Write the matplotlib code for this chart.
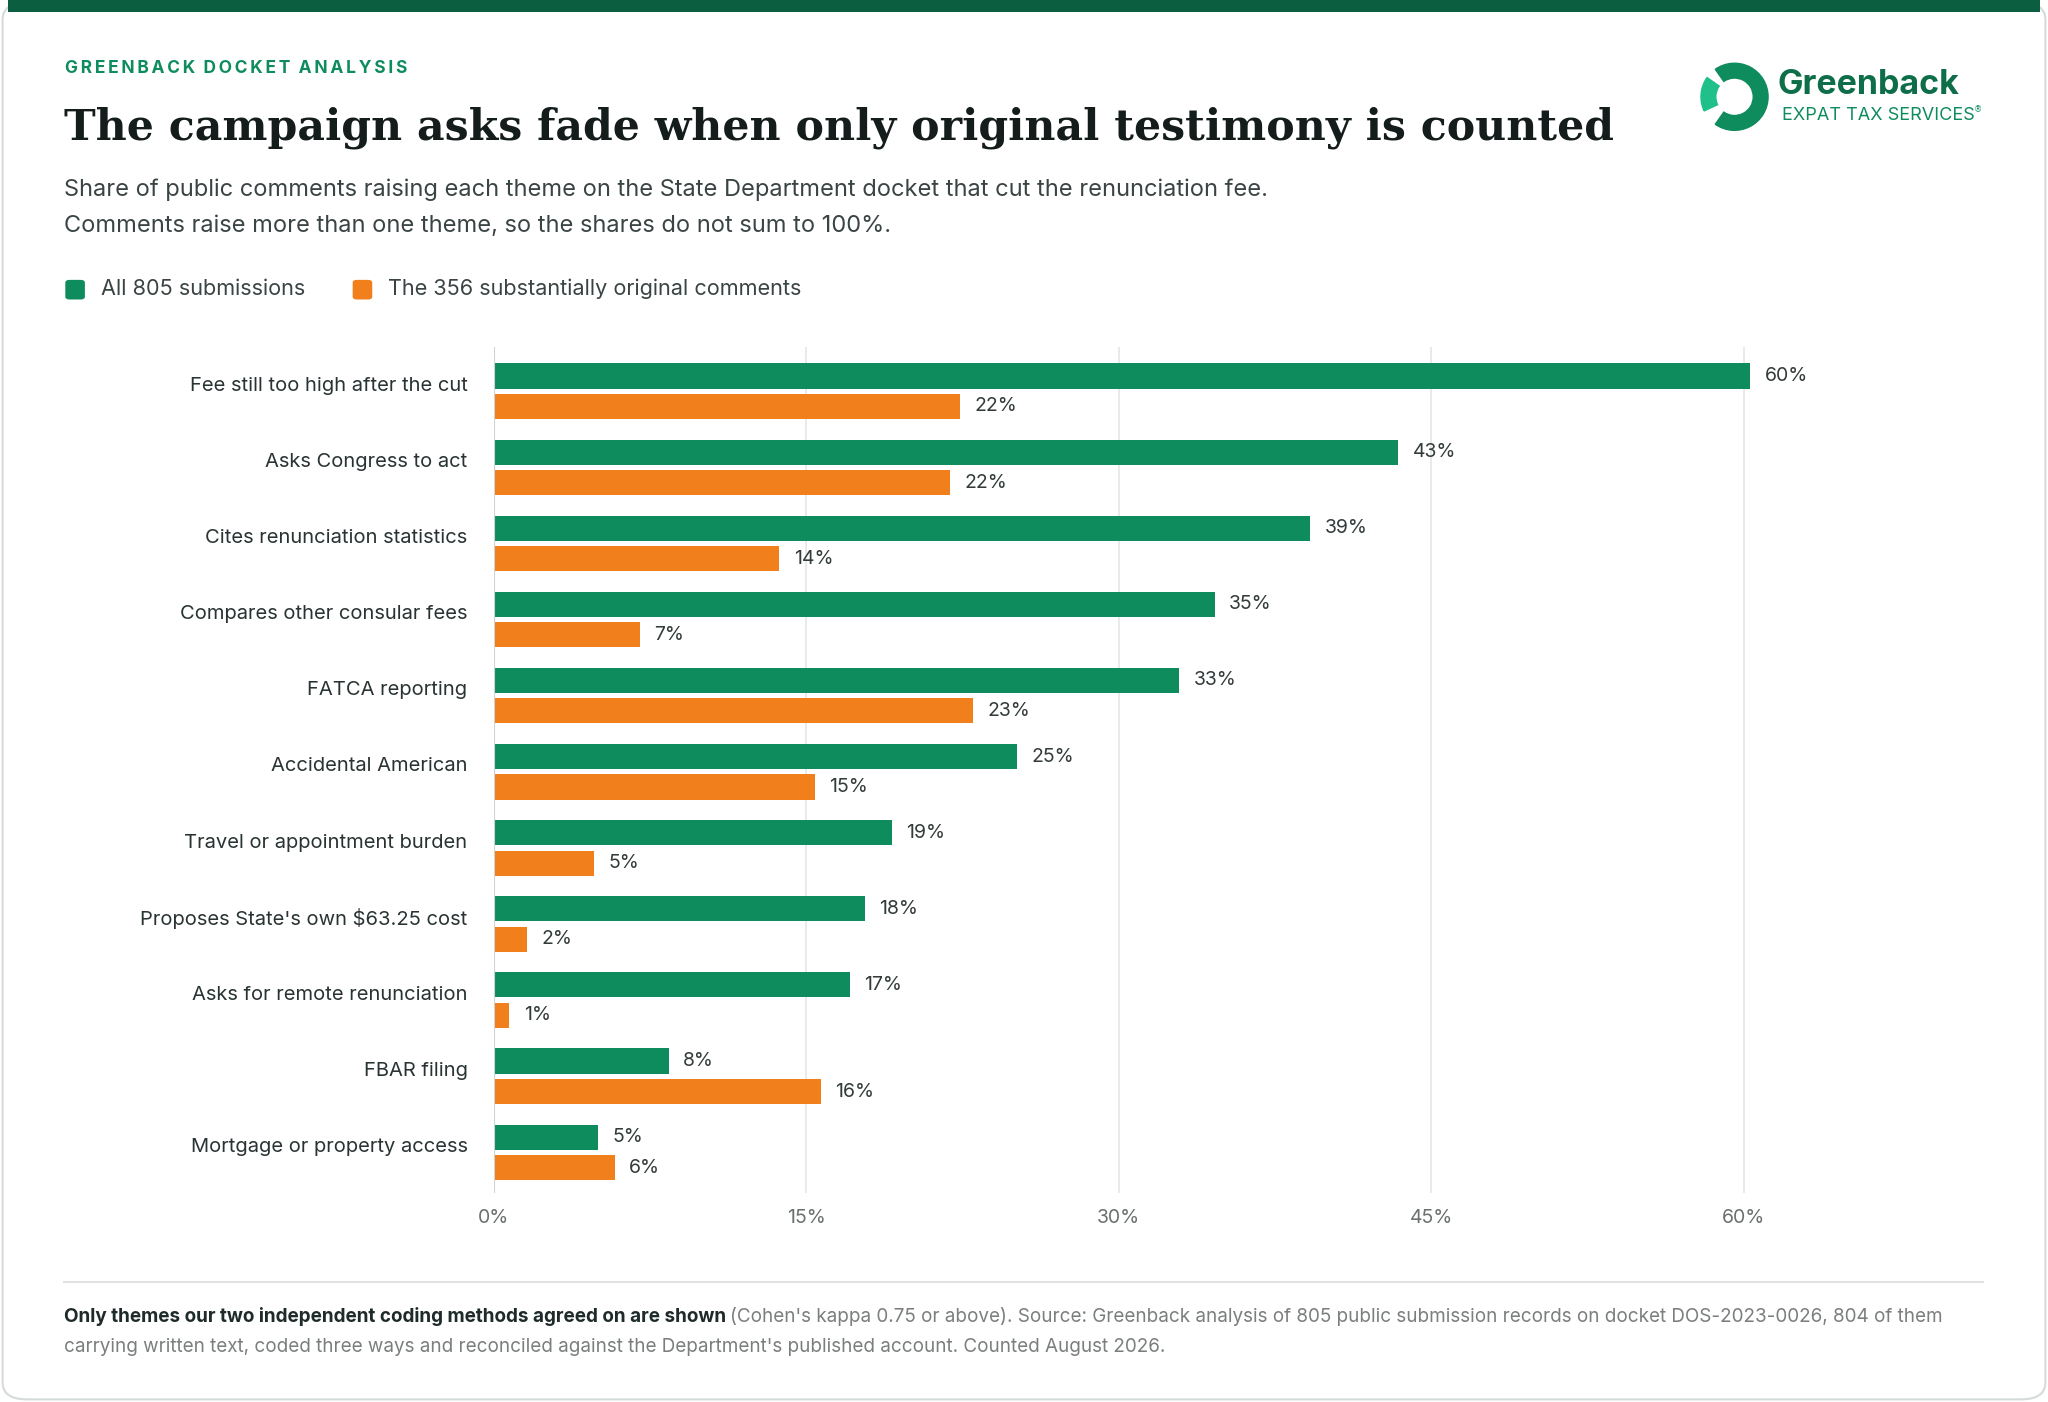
import matplotlib
matplotlib.use("Agg")
import matplotlib.pyplot as plt
from matplotlib.patches import FancyBboxPatch, Rectangle, Wedge
import numpy as np

categories = ["Fee still too high after the cut", "Asks Congress to act", "Cites renunciation statistics",
              "Compares other consular fees", "FATCA reporting", "Accidental American",
              "Travel or appointment burden", "Proposes State's own $63.25 cost",
              "Asks for remote renunciation", "FBAR filing", "Mortgage or property access"]
all_vals = [60.3, 43.4, 39.2, 34.6, 32.9, 25.1, 19.1, 17.8, 17.1, 8.4, 5.0]
orig_vals = [22.4, 21.9, 13.7, 7.0, 23.0, 15.4, 4.8, 1.6, 0.75, 15.7, 5.8]
all_labels = ["60%", "43%", "39%", "35%", "33%", "25%", "19%", "18%", "17%", "8%", "5%"]
orig_labels = ["22%", "22%", "14%", "7%", "23%", "15%", "5%", "2%", "1%", "16%", "6%"]
xticks = [0, 15, 30, 45, 60]
xticklabels = ["0%", "15%", "30%", "45%", "60%"]

GREEN = "#0f8c5e"
ORANGE = "#f07f1c"
GREY = "#6b7070"

W, H = 1568, 1072
fig = plt.figure(figsize=(20.48, 14.02), dpi=100)
def fx(x): return x / W
def fy(y): return 1 - y / H

# card
fig.patches.append(FancyBboxPatch((fx(2), fy(1070)), fx(1564), (1068) / H, boxstyle="round,pad=0,rounding_size=0.012",
                                  transform=fig.transFigure, facecolor="white", edgecolor="#d5dbd8", lw=1.5, zorder=-5))
fig.patches.append(Rectangle((fx(6), fy(9)), fx(1556), 9 / H, transform=fig.transFigure, facecolor="#0b5e3f", lw=0, zorder=-4))

fig.text(fx(50), fy(52), "G R E E N B A C K   D O C K E T   A N A L Y S I S".replace(" ", "\u2009").replace("\u2009\u2009\u2009", "  "),
         fontsize=12.5, color=GREEN, weight="bold", family=["Inter", "DejaVu Sans"], va="center")
fig.text(fx(49), fy(98), "The campaign asks fade when only original testimony is counted", fontsize=30.7,
         color="#141c1c", weight="bold", family="DejaVu Serif", va="center")
fig.text(fx(49), fy(145), "Share of public comments raising each theme on the State Department docket that cut the renunciation fee.",
         fontsize=17, color="#3b4444", family="Inter", va="center")
fig.text(fx(49), fy(173), "Comments raise more than one theme, so the shares do not sum to 100%.",
         fontsize=17, color="#3b4444", family="Inter", va="center")

# legend
fig.patches.append(FancyBboxPatch((fx(50), fy(229)), fx(15), 15 / H, boxstyle="round,pad=0,rounding_size=0.002",
                                  transform=fig.transFigure, facecolor=GREEN, lw=0))
fig.text(fx(77), fy(221), "All 805 submissions", fontsize=15.6, color="#3b4444", family="Inter", va="center")
fig.patches.append(FancyBboxPatch((fx(270), fy(229)), fx(15), 15 / H, boxstyle="round,pad=0,rounding_size=0.002",
                                  transform=fig.transFigure, facecolor=ORANGE, lw=0))
fig.text(fx(297), fy(221), "The 356 substantially original comments", fontsize=15.6, color="#3b4444", family="Inter", va="center")

# logo
lax = fig.add_axes([fx(1300), fy(101), fx(56), 54 / H])
lax.set_xlim(-1, 1); lax.set_ylim(-1, 1); lax.set_aspect("equal"); lax.axis("off")
lax.add_patch(Wedge((0, 0), 0.95, -125, 125, width=0.42, color="#0f8c5e"))
lax.add_patch(Wedge((0, 0), 0.95, 145, 205, width=0.42, color="#1fc08a"))
fig.text(fx(1361), fy(65), "Greenback", fontsize=24.5, color="#0f6e4a", weight="bold", family="Inter", va="center")
fig.text(fx(1364), fy(88), "EXPAT TAX SERVICES", fontsize=13, color="#0f8c5e", family="Inter", va="center")
fig.text(fx(1511), fy(84), "®", fontsize=6, color="#0f8c5e", va="center")

# chart
ax = fig.add_axes([fx(378), fy(912), fx(1518 - 378), (912 - 265) / H])
n = len(categories)
y = np.arange(n)
bh = 0.33
off = 0.2
ax.barh(y - off, all_vals, height=bh, color=GREEN, zorder=3)
ax.barh(y + off, orig_vals, height=bh, color=ORANGE, zorder=3)
for i in range(n):
    ax.text(all_vals[i] + 0.7, y[i] - off, all_labels[i], va="center", fontsize=14, color="#333b3b", family="Inter")
    ax.text(orig_vals[i] + 0.7, y[i] + off, orig_labels[i], va="center", fontsize=14, color="#333b3b", family="Inter")
    ax.text(-20 / 1140, y[i] - 0.07, categories[i], transform=ax.get_yaxis_transform(), ha="right", va="center",
            fontsize=14.5, color="#2a3333", family="Inter")
ax.set_ylim(n - 1 + 0.53, -0.586)
ax.set_xlim(0, (1518 - 378) / 15.95)
ax.set_yticks([])
ax.set_xticks(xticks)
ax.set_xticklabels(xticklabels, fontsize=14, color=GREY, family="Inter")
ax.tick_params(axis="x", length=0, pad=12)
ax.grid(axis="x", color="#e4e7e5", lw=1.2, zorder=0)
ax.axvline(0, color="#cfd4d1", lw=1.5, zorder=4)
for s in ax.spines.values():
    s.set_visible(False)

# footer
fig.add_artist(plt.Line2D([fx(49), fx(1518)], [fy(980), fy(980)], transform=fig.transFigure, color="#e0e2df", lw=1.5))
t1 = fig.text(fx(49), fy(1007), "Only themes our two independent coding methods agreed on are shown", fontsize=13.6,
              weight="bold", color="#1f2a2a", family="Inter", va="center")
fig.canvas.draw()
bb = t1.get_window_extent()
fig.text(bb.x1 / fig.bbox.width + 0.002, fy(1007),
         "(Cohen's kappa 0.75 or above). Source: Greenback analysis of 805 public submission records on docket DOS-2023-0026, 804 of them",
         fontsize=13.6, color="#7a7f7d", family="Inter", va="center")
fig.text(fx(49), fy(1030), "carrying written text, coded three ways and reconciled against the Department's published account. Counted August 2026.",
         fontsize=13.6, color="#7a7f7d", family="Inter", va="center")

fig.savefig("out.png", dpi=100)
